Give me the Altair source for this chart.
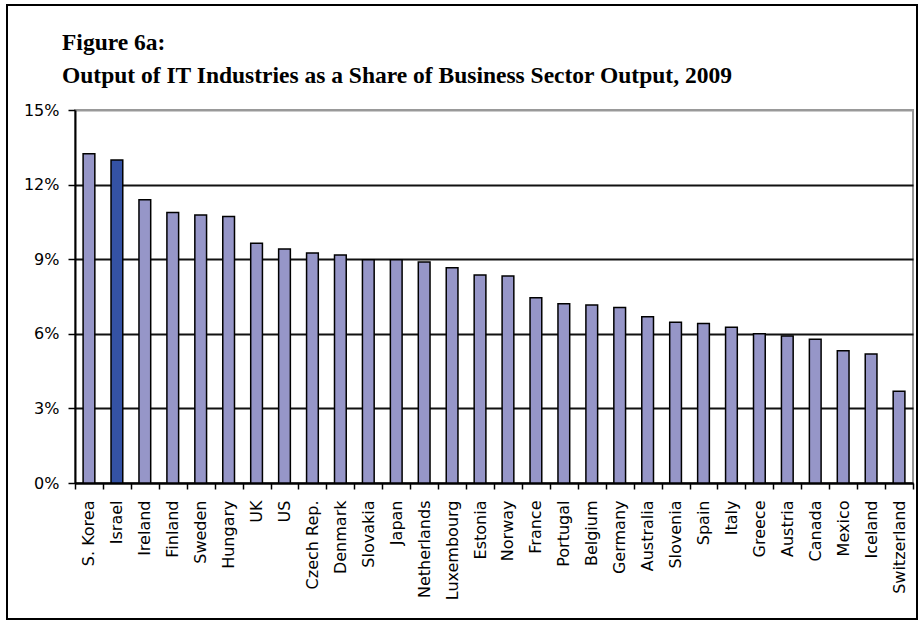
import altair as alt
import pandas as pd

# ---- data ----
countries = ["S. Korea", "Israel", "Ireland", "Finland", "Sweden", "Hungary", "UK", "US",
             "Czech Rep.", "Denmark", "Slovakia", "Japan", "Netherlands", "Luxembourg",
             "Estonia", "Norway", "France", "Portugal", "Belgium", "Germany", "Australia",
             "Slovenia", "Spain", "Italy", "Greece", "Austria", "Canada", "Mexico",
             "Iceland", "Switzerland"]
shares_pct = [13.24, 12.99, 11.39, 10.88, 10.78, 10.72, 9.64, 9.41, 9.25, 9.17, 8.98, 8.98,
              8.89, 8.66, 8.36, 8.32, 7.45, 7.21, 7.16, 7.06, 6.69, 6.46, 6.41, 6.26, 6.00,
              5.91, 5.78, 5.32, 5.19, 3.69]
highlight = "Israel"
y_ticks = [0, 0.03, 0.06, 0.09, 0.12, 0.15]
title_lines = ["Figure 6a:", "Output of IT Industries as a Share of Business Sector Output, 2009"]

df = pd.DataFrame({"country": countries, "share": [v / 100 for v in shares_pct]})

LIGHT = "#9696C8"
DARK = "#3452A4"

bars = alt.Chart(df).mark_bar(
    width=alt.RelativeBandSize(0.42), stroke="black", strokeWidth=1.5
).encode(
    x=alt.X("country:N", sort=countries,
            scale=alt.Scale(paddingInner=0, paddingOuter=0),
            axis=alt.Axis(title=None, labelAngle=270, labelAlign="right",
                          labelBaseline="middle", labelPadding=11,
                          labelFont="DejaVu Sans", labelFontSize=16, labelColor="black",
                          tickBand="extent", ticks=True, tickSize=6, tickColor="black",
                          tickWidth=1.5, domainColor="black", domainWidth=2,
                          grid=False)),
    y=alt.Y("share:Q",
            scale=alt.Scale(domain=[0, 0.15], nice=False),
            axis=alt.Axis(title=None, values=y_ticks, format=".0%",
                          labelFont="DejaVu Sans", labelFontSize=16, labelColor="black",
                          labelPadding=9, tickSize=7, tickColor="black", tickWidth=1.5,
                          domainColor="black", domainWidth=2,
                          grid=True, gridWidth=2,
                          gridColor={"condition": {"test": "datum.value >= 0.149",
                                                   "value": "#999999"},
                                     "value": "#111111"})),
    color=alt.condition(alt.datum.country == highlight, alt.value(DARK), alt.value(LIGHT)),
)

t1 = alt.Chart(pd.DataFrame({"t": [title_lines[0]]})).mark_text(
    font="Liberation Serif", fontWeight="bold", fontSize=23.5, align="left",
    baseline="alphabetic", color="black"
).encode(text="t:N", x=alt.value(-13), y=alt.value(-60))

t2 = alt.Chart(pd.DataFrame({"t": [title_lines[1]]})).mark_text(
    font="Liberation Serif", fontWeight="bold", fontSize=23.5, align="left",
    baseline="alphabetic", color="black"
).encode(text="t:N", x=alt.value(-13), y=alt.value(-27))

frame = alt.Chart(pd.DataFrame({"k": [0]})).mark_rect(
    fillOpacity=0, stroke="black", strokeWidth=2
).encode(x=alt.value(-68), x2=alt.value(842), y=alt.value(-105), y2=alt.value(509))

chart = alt.layer(bars, t1, t2, frame).properties(
    width=838, height=373,
    padding={"left": 75, "top": 110, "right": 9, "bottom": 138},
    autosize=alt.AutoSizeParams(type="none"),
    background="white",
).configure_view(stroke="#999999", strokeWidth=2)

chart.save("out.html", embed_options={"renderer": "svg", "actions": False})
